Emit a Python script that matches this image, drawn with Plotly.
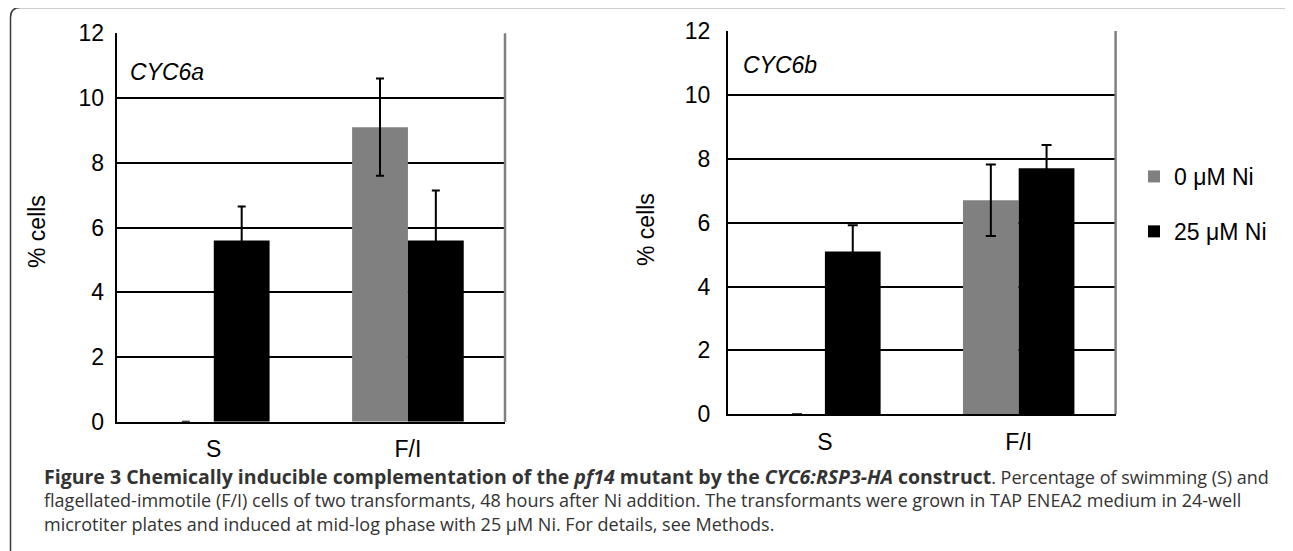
import plotly.graph_objects as go

# ---------------- data ----------------
categories = ["S", "F/I"]
conditions = ["0 μM Ni", "25 μM Ni"]

cyc6a_0ni = [0.0, 9.1]
cyc6a_0ni_err = [0.0, 1.5]
cyc6a_25ni = [5.6, 5.6]
cyc6a_25ni_err = [1.05, 1.54]

cyc6b_0ni = [0.0, 6.7]
cyc6b_0ni_err = [0.0, 1.12]
cyc6b_25ni = [5.1, 7.7]
cyc6b_25ni_err = [0.82, 0.73]

y_ticks = [0, 2, 4, 6, 8, 10, 12]
panel_labels = ["CYC6a", "CYC6b"]

# ---------------- layout helpers ----------------
W, H = 1293, 551
OFF = 8  # page body margin


def px(x):
    return (x - OFF) / W


def py(y):
    return 1 - (y - OFF) / H


GRAY = "#808080"
BLACK = "#000000"
FONT = "Liberation Sans, Arial, Helvetica, sans-serif"
CAP_FONT = "Open Sans, sans-serif"
FS = 23

fig = go.Figure()

panels = [
    ("x", "y", cyc6a_0ni, cyc6a_0ni_err, cyc6a_25ni, cyc6a_25ni_err, False, 4),
    ("x2", "y2", cyc6b_0ni, cyc6b_0ni_err, cyc6b_25ni, cyc6b_25ni_err, True, 5),
]
for xa, ya, v0, e0, v25, e25, showleg, capw in panels:
    fig.add_trace(go.Bar(
        x=categories, y=v0, name=conditions[0], marker_color=GRAY,
        marker_line_width=0, xaxis=xa, yaxis=ya, showlegend=showleg,
        legendgroup="g0", cliponaxis=False,
        error_y=dict(type="data", array=e0, color=BLACK, thickness=2, width=capw),
    ))
    fig.add_trace(go.Bar(
        x=categories, y=v25, name=conditions[1], marker_color=BLACK,
        marker_line_width=0, xaxis=xa, yaxis=ya, showlegend=showleg,
        legendgroup="g1", cliponaxis=False,
        error_y=dict(type="data", array=e25, color=BLACK, thickness=2, width=capw),
    ))

xdom1 = [px(116.7), px(505)]
ydom1 = [py(421.7), py(33.3)]
xdom2 = [px(728), px(1115.6)]
ydom2 = [py(414.3), py(31)]

axis_x = dict(showline=True, linecolor=BLACK, linewidth=2, showgrid=False,
              ticks="", tickfont=dict(family=FONT, size=FS, color=BLACK),
              ticklabelstandoff=6, fixedrange=True, automargin=False)
axis_y = dict(showline=True, linecolor=BLACK, linewidth=2, showgrid=True,
              gridcolor=BLACK, gridwidth=2, zeroline=False, range=[0, 12],
              tickvals=y_ticks, ticks="", automargin=False,
              tickfont=dict(family=FONT, size=FS, color=BLACK), fixedrange=True)

fig.update_layout(
    width=W, height=H, autosize=False,
    margin=dict(l=0, r=0, t=0, b=0, pad=0, autoexpand=False),
    paper_bgcolor="white", plot_bgcolor="white",
    barmode="group", bargap=0.425, bargroupgap=0,
    xaxis=dict(axis_x, domain=xdom1, anchor="y"),
    yaxis=dict(axis_y, domain=ydom1, anchor="x", ticklabelstandoff=6),
    xaxis2=dict(axis_x, domain=xdom2, anchor="y2"),
    yaxis2=dict(axis_y, domain=ydom2, anchor="x2", ticklabelstandoff=11),
    legend=dict(x=px(1134), y=py(155), xanchor="left", yanchor="top",
                font=dict(family=FONT, size=FS, color=BLACK),
                tracegroupgap=22, bgcolor="rgba(0,0,0,0)"),
    showlegend=True,
)

# right-hand gray frame of each plot area
for xr, yr in [("x domain", "y domain"), ("x2 domain", "y2 domain")]:
    fig.add_shape(type="line", xref=xr, yref=yr, x0=1, x1=1, y0=0, y1=1,
                  line=dict(color=GRAY, width=2.5))

# outer rounded frame (open to the right and bottom)
r = 10
frame_path = (
    f"M {px(10.5)},{py(570)} L {px(10.5)},{py(7.5 + r)} "
    f"Q {px(10.5)},{py(7.5)} {px(10.5 + r)},{py(7.5)} "
    f"L {px(1285)},{py(7.5)} Q {px(1291)},{py(7.5)} {px(1294)},{py(14)}"
)
fig.add_shape(type="path", xref="paper", yref="paper", path=frame_path,
              line=dict(color="#3a3a3a", width=1.5))

# panel labels
fig.add_annotation(text=f"<i>{panel_labels[0]}</i>", xref="paper", yref="paper",
                   x=px(128), y=py(72), xanchor="left", yanchor="middle",
                   showarrow=False, font=dict(family=FONT, size=FS, color=BLACK))
fig.add_annotation(text=f"<i>{panel_labels[1]}</i>", xref="paper", yref="paper",
                   x=px(741), y=py(65), xanchor="left", yanchor="middle",
                   showarrow=False, font=dict(family=FONT, size=FS, color=BLACK))

# y-axis titles
for xc, yc in [(37, 232), (646, 230)]:
    fig.add_annotation(text="% cells", xref="paper", yref="paper",
                       x=px(xc), y=py(yc), xanchor="center", yanchor="middle",
                       textangle=-90, showarrow=False,
                       font=dict(family=FONT, size=FS, color=BLACK))

# caption
cap_lines = [
    '<span style="font-size:19.5px"><b>Figure 3 Chemically inducible complementation of the '
    '<i>pf14</i> mutant by the <i>CYC6:RSP3-HA</i> construct</b></span>. '
    'Percentage of swimming (S) and',
    "flagellated-immotile (F/I) cells of two transformants, 48 hours after Ni addition. "
    "The transformants were grown in TAP ENEA2 medium in 24-well",
    "microtiter plates and induced at mid-log phase with 25 μM Ni. For details, see Methods.",
]
fig.add_annotation(text="<br>".join(cap_lines), xref="paper", yref="paper",
                   x=px(42), y=py(499), xanchor="left", yanchor="middle",
                   align="left", showarrow=False,
                   font=dict(family=CAP_FONT, size=18, color="#333333"))

fig.write_html("out.html")
